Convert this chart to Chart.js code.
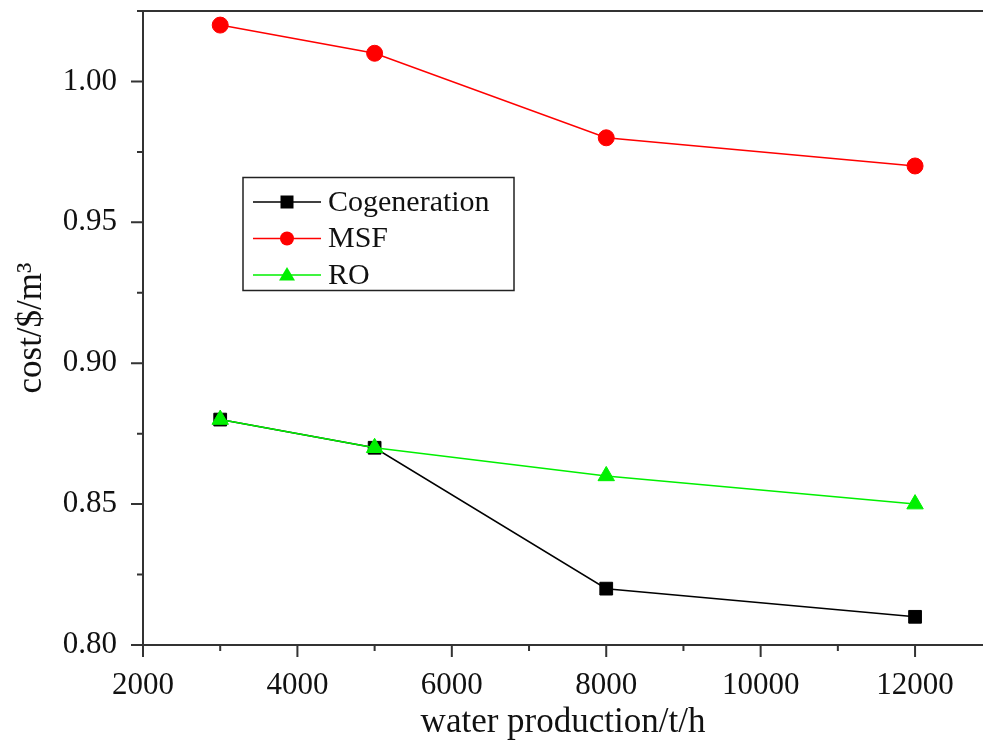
<!DOCTYPE html>
<html>
<head>
<meta charset="utf-8">
<script src="https://cdn.jsdelivr.net/npm/chart.js@4.4.1/dist/chart.umd.min.js"></script>
<style>
  html, body { margin: 0; padding: 0; background: #fff; overflow: hidden; }
  #wrap { width: 983px; height: 744px; }
</style>
</head>
<body>
<div id="wrap"><canvas id="costChart" width="983" height="744"></canvas></div>
<script>
// ---------------- DATA ----------------
const waterProduction  = [3000, 5000, 8000, 12000];   // t/h
const cogenerationCost = [0.88, 0.87, 0.82, 0.81];    // $/m3
const msfCost          = [1.02, 1.01, 0.98, 0.97];
const roCost           = [0.88, 0.87, 0.86, 0.85];

const xMajorTicks = [2000, 4000, 6000, 8000, 10000, 12000];
const xMinorTicks = [3000, 5000, 7000, 9000, 11000];
const yMajorTicks = [0.80, 0.85, 0.90, 0.95, 1.00];
const yMinorTicks = [0.825, 0.875, 0.925, 0.975, 1.025];

// ---------------- STYLE ----------------
const FONT = '"Liberation Serif", "DejaVu Serif", serif';
const AXIS_COLOR = '#333';
const TEXT_COLOR = '#111';
const GREEN = '#00f000';

const toPoints = ys => waterProduction.map((x, i) => ({ x: x, y: ys[i] }));

// axes drawn by hand: ticks point outward, minor ticks shorter
const axesPlugin = {
  id: 'axes',
  beforeDatasetsDraw(chart) {
    const { ctx, chartArea: a, scales: { x, y } } = chart;
    ctx.save();
    ctx.strokeStyle = AXIS_COLOR;
    ctx.lineWidth = 2;
    ctx.beginPath();
    ctx.moveTo(a.left - 6, a.top);
    ctx.lineTo(a.right, a.top);
    ctx.moveTo(a.left, a.top);
    ctx.lineTo(a.left, a.bottom);
    ctx.lineTo(a.right, a.bottom);

    xMajorTicks.forEach(v => {
      const px = x.getPixelForValue(v);
      ctx.moveTo(px, a.bottom); ctx.lineTo(px, a.bottom + 12);
    });
    xMinorTicks.forEach(v => {
      const px = x.getPixelForValue(v);
      ctx.moveTo(px, a.bottom); ctx.lineTo(px, a.bottom + 6);
    });
    yMajorTicks.forEach(v => {
      const py = y.getPixelForValue(v);
      ctx.moveTo(a.left, py); ctx.lineTo(a.left - 12, py);
    });
    yMinorTicks.forEach(v => {
      const py = y.getPixelForValue(v);
      ctx.moveTo(a.left, py); ctx.lineTo(a.left - 6, py);
    });
    ctx.stroke();
    ctx.restore();
  }
};

// legend box inside the plot
const legendPlugin = {
  id: 'boxLegend',
  afterDraw(chart) {
    const { ctx } = chart;
    const box = { left: 243, top: 177.5, width: 271, height: 113 };
    ctx.save();
    ctx.strokeStyle = '#222';
    ctx.lineWidth = 1.5;
    ctx.strokeRect(box.left, box.top, box.width, box.height);

    chart.data.datasets.forEach((ds, i) => {
      const cy = box.top + 24.5 + i * 36.5;
      const cx = 287;
      ctx.strokeStyle = ds.borderColor;
      ctx.lineWidth = 1.5;
      ctx.beginPath();
      ctx.moveTo(253, cy); ctx.lineTo(321, cy);
      ctx.stroke();

      ctx.fillStyle = ds.backgroundColor;
      ctx.beginPath();
      if (ds.pointStyle === 'rect') {
        ctx.rect(cx - 6.5, cy - 6.5, 13, 13);
      } else if (ds.pointStyle === 'circle') {
        ctx.arc(cx, cy, 7, 0, Math.PI * 2);
      } else {
        ctx.moveTo(cx, cy - 8);
        ctx.lineTo(cx + 8, cy + 5.5);
        ctx.lineTo(cx - 8, cy + 5.5);
        ctx.closePath();
      }
      ctx.fill();

      ctx.fillStyle = TEXT_COLOR;
      ctx.font = '30px ' + FONT;
      ctx.textBaseline = 'middle';
      ctx.textAlign = 'left';
      ctx.fillText(ds.label, 328, cy + 1);
    });
    ctx.restore();
  }
};

const cfg = {
  type: 'line',
  data: {
    datasets: [
      {
        label: 'Cogeneration',
        data: toPoints(cogenerationCost),
        borderColor: '#000',
        backgroundColor: '#000',
        borderWidth: 1.5,
        pointStyle: 'rect',
        pointRadius: 9,
        pointBorderWidth: 1,
        order: 2
      },
      {
        label: 'MSF',
        data: toPoints(msfCost),
        borderColor: '#ff0000',
        backgroundColor: '#ff0000',
        borderWidth: 1.5,
        pointStyle: 'circle',
        pointRadius: 8,
        pointBorderWidth: 1,
        order: 1
      },
      {
        label: 'RO',
        data: toPoints(roCost),
        borderColor: GREEN,
        backgroundColor: GREEN,
        borderWidth: 1.5,
        pointStyle: 'triangle',
        pointRadius: 9.5,
        pointBorderWidth: 1,
        order: 0
      }
    ]
  },
  options: {
    responsive: false,
    animation: false,
    layout: { autoPadding: false, padding: { top: 11, right: 0, bottom: 0, left: 0 } },
    plugins: {
      legend: { display: false },
      tooltip: { enabled: false }
    },
    scales: {
      x: {
        type: 'linear',
        min: 2000,
        max: 12880,
        afterBuildTicks(s) { s.ticks = xMajorTicks.map(v => ({ value: v })); },
        afterFit(s) { s.height = 99; s.paddingLeft = 0; s.paddingRight = 0; },
        grid: { display: false, drawTicks: false },
        border: { display: false },
        ticks: {
          autoSkip: false,
          maxRotation: 0,
          padding: 22,
          color: TEXT_COLOR,
          font: { family: FONT, size: 31 },
          callback: v => String(v)
        },
        title: {
          display: true,
          text: 'water production/t/h',
          color: TEXT_COLOR,
          font: { family: FONT, size: 35 },
          padding: { top: 0, bottom: 0 }
        }
      },
      y: {
        min: 0.80,
        max: 1.025,
        afterBuildTicks(s) { s.ticks = yMajorTicks.map(v => ({ value: v })); },
        afterFit(s) { s.width = 143; s.paddingTop = 0; s.paddingBottom = 0; },
        grid: { display: false, drawTicks: false },
        border: { display: false },
        ticks: {
          autoSkip: false,
          padding: 26,
          color: TEXT_COLOR,
          font: { family: FONT, size: 31 },
          callback: v => v.toFixed(2)
        },
        title: {
          display: true,
          text: 'cost/$/m³',
          color: TEXT_COLOR,
          font: { family: FONT, size: 35 },
          padding: { top: 11, bottom: 0 }
        }
      }
    }
  },
  plugins: [axesPlugin, legendPlugin]
};

const chart = new Chart(document.getElementById('costChart').getContext('2d'), cfg);
</script>
</body>
</html>
